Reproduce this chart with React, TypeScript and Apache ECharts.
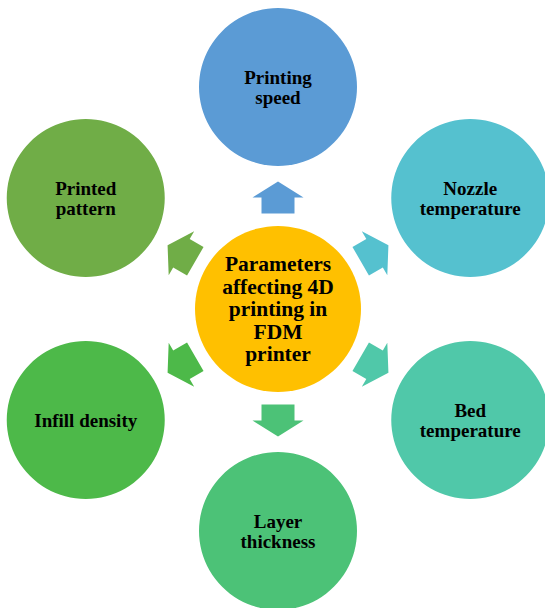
import React, { useEffect, useRef } from "react";
import * as echarts from "echarts";

// Diagram content
const centerLabel = "Parameters\naffecting 4D\nprinting in\nFDM\nprinter";
const centerColor = "#FFC000";
const outerLabels = [
  "Printing\nspeed",
  "Nozzle\ntemperature",
  "Bed\ntemperature",
  "Layer\nthickness",
  "Infill density",
  "Printed\npattern",
];
const outerColors = ["#5B9BD5", "#55C1CF", "#50C8A9", "#4CC277", "#4DB949", "#70AD47"];
const outerAngles = [0, 60, 120, 180, 240, 300]; // degrees clockwise from top

// Layout (pixel units on hidden axes)
const W = 545;
const H = 608;
const CX = 278;
const CY = 309;
const ORBIT = 222;
const OUTER_SIZE = 158;
const CENTER_SIZE = 166;

const rad = (d: number) => (d * Math.PI) / 180;

export default function App() {
  const ref = useRef<HTMLDivElement>(null);
  useEffect(() => {
    if (!ref.current) return;
    const chart = echarts.init(ref.current, undefined, { renderer: "svg" });

    const nodes = [
      {
        name: centerLabel,
        value: [CX, CY],
        symbolSize: CENTER_SIZE,
        itemStyle: { color: centerColor, opacity: 1 },
        label: { fontSize: 21.5, lineHeight: 22.5 },
      },
      ...outerLabels.map((l, i) => ({
        name: l,
        value: [CX + ORBIT * Math.sin(rad(outerAngles[i])), CY - ORBIT * Math.cos(rad(outerAngles[i]))],
        symbolSize: OUTER_SIZE,
        itemStyle: { color: outerColors[i], opacity: 1 },
      })),
    ];

    const arrows = outerAngles.map((a, i) => ({ value: [a], itemStyle: { color: outerColors[i] } }));

    chart.setOption({
      animation: false,
      grid: { left: 0, right: 0, top: 0, bottom: 0 },
      xAxis: { type: "value", min: 0, max: W, show: false },
      yAxis: { type: "value", min: 0, max: H, inverse: true, show: false },
      series: [
        {
          type: "custom",
          coordinateSystem: "cartesian2d",
          clip: false,
          data: arrows,
          renderItem: (params: any, api: any) => {
            const a = rad(api.value(0));
            const ux = Math.sin(a);
            const uy = -Math.cos(a);
            const px = -uy; // perpendicular
            const py = ux;
            const r0 = 95.5, r1 = 111.5, r2 = 127.5, sh = 16.5, hh = 25.5;
            const pt = (r: number, o: number) => api.coord([CX + ux * r + px * o, CY + uy * r + py * o]);
            const points = [
              pt(r0, -sh),
              pt(r1, -sh),
              pt(r1, -hh),
              pt(r2, 0),
              pt(r1, hh),
              pt(r1, sh),
              pt(r0, sh),
            ];
            return {
              type: "polygon",
              shape: { points },
              style: { fill: api.visual("color") },
            };
          },
        },
        {
          type: "scatter",
          symbol: "circle",
          data: nodes,
          itemStyle: { opacity: 1 },
          label: {
            show: true,
            position: "inside",
            formatter: (p: any) => p.name,
            fontFamily: "Liberation Serif",
            fontWeight: "bold",
            fontSize: 19,
            lineHeight: 20,
            color: "#000000",
            textBorderWidth: 0,
            align: "center",
            verticalAlign: "middle",
          },
          emphasis: { disabled: true },
        },
      ],
    });
    return () => chart.dispose();
  }, []);
  return (
    <div
      ref={ref}
      style={{ position: "fixed", left: 0, top: 0, width: W, height: H, background: "#fff" }}
    />
  );
}
